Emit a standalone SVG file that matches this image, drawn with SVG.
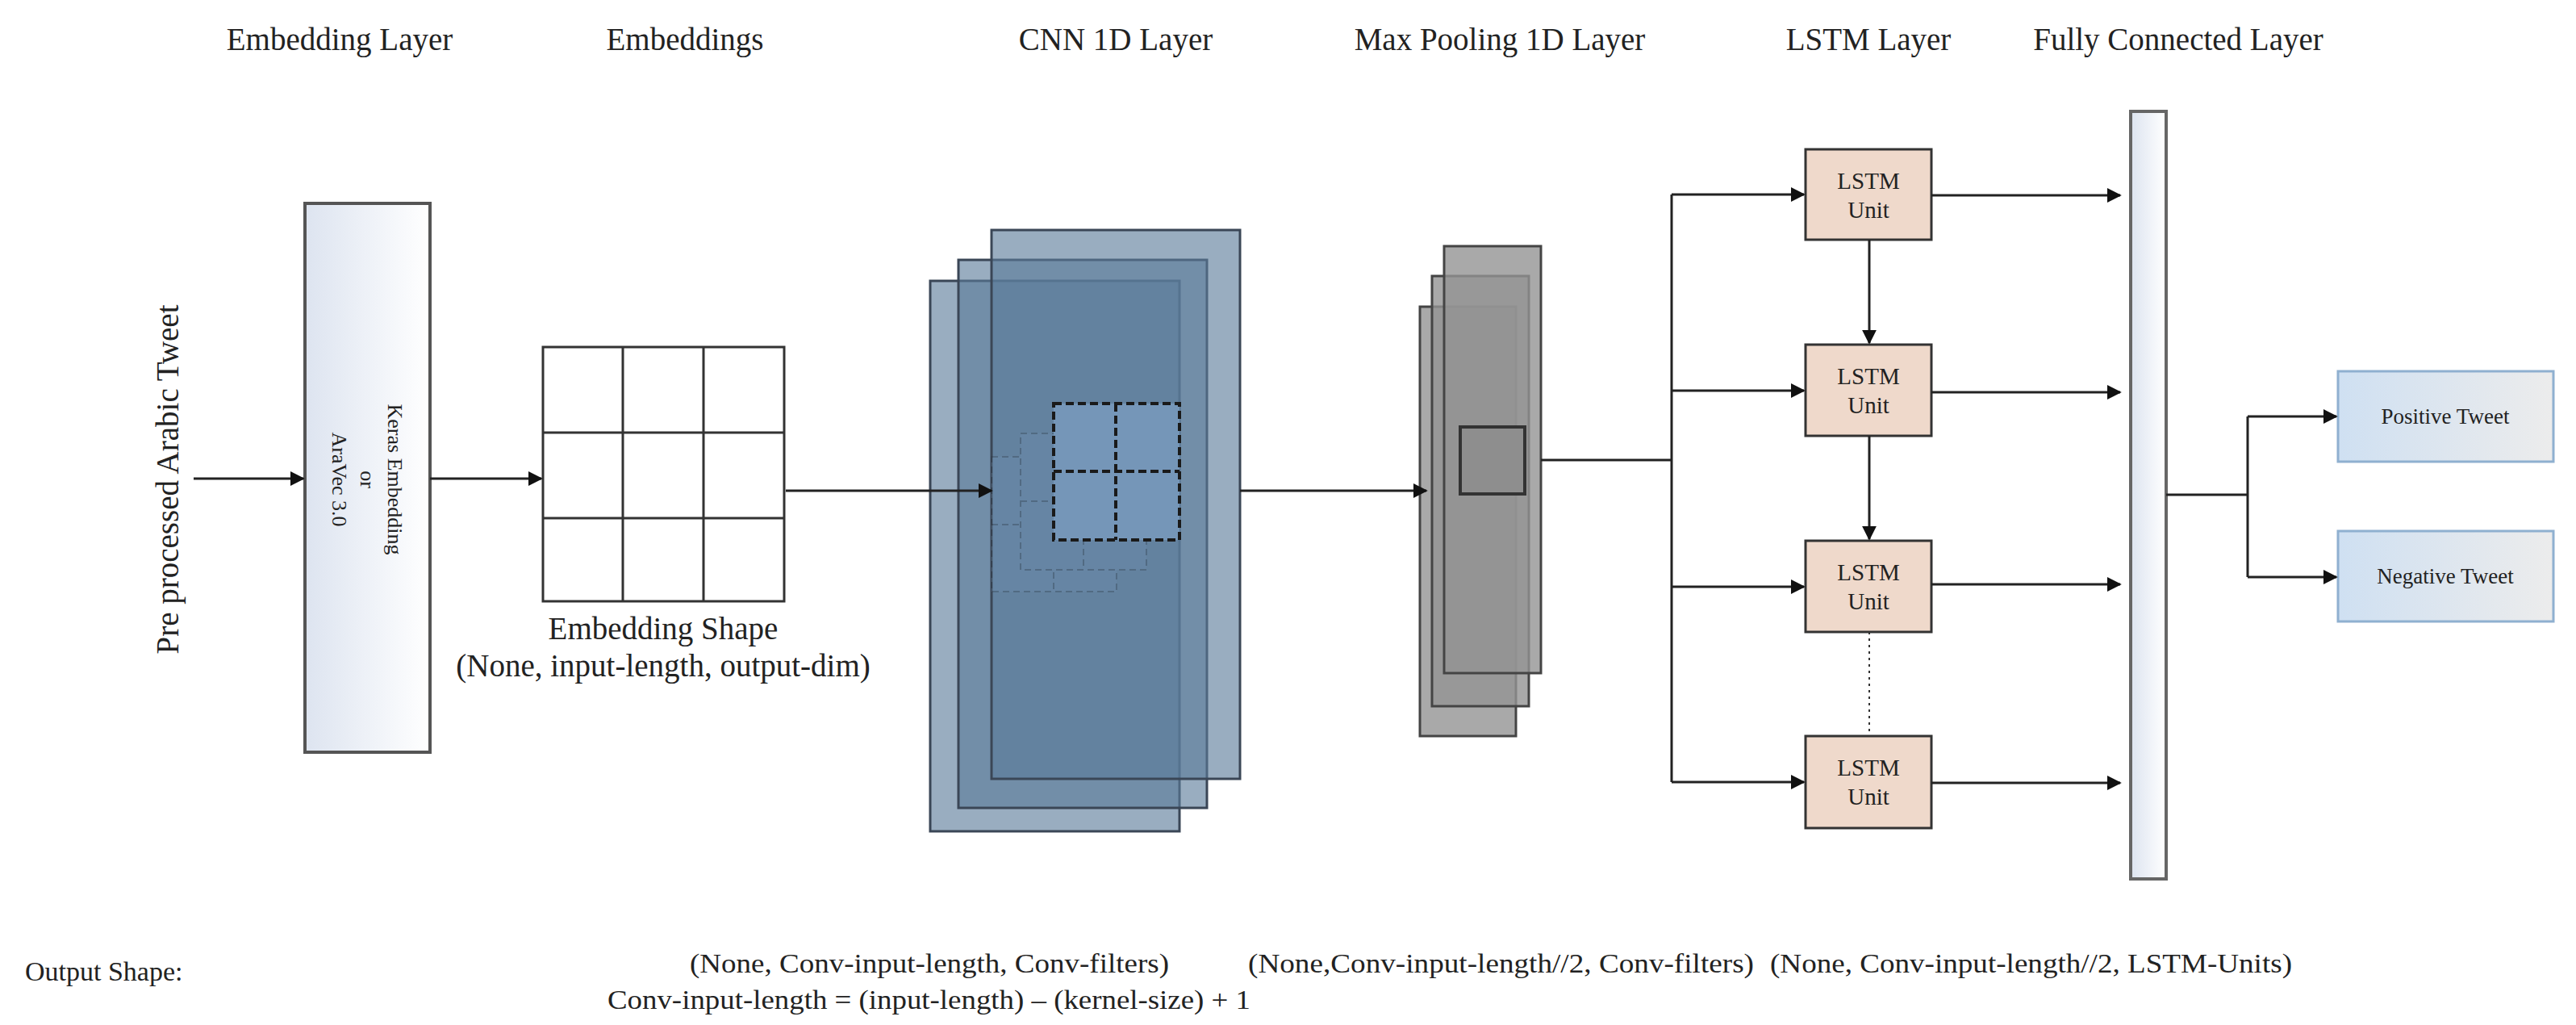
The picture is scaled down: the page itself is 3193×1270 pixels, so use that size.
<svg xmlns="http://www.w3.org/2000/svg" width="3193" height="1270" viewBox="0 0 3193 1270">
<style>
text{font-family:"Liberation Serif","Times New Roman",serif;fill:#222}
.t{font-size:39px;text-anchor:middle}
.c{stroke:#222;stroke-width:3;fill:none}
.lstm{fill:#efd9cb;stroke:#333;stroke-width:3}
.lt{font-size:29px;text-anchor:middle}
.cnn{fill:#5b7a9a;fill-opacity:0.62;stroke:#3a4656;stroke-width:3}
.mp{fill:#939393;fill-opacity:0.8;stroke:#444;stroke-width:3}
.bt{font-family:"Liberation Serif","Times New Roman",serif;font-size:34px}
</style>
<defs>
<marker id="a" viewBox="0 0 10 10" refX="9" refY="5" markerWidth="6" markerHeight="6" orient="auto"><path d="M0,0L10,5L0,10z" fill="#111"/></marker>
<linearGradient id="g1" x1="0" x2="1"><stop offset="0" stop-color="#dde4f0"/><stop offset="1" stop-color="#ffffff"/></linearGradient>
<linearGradient id="g2" x1="0" x2="1"><stop offset="0" stop-color="#cfe0f2"/><stop offset="1" stop-color="#ececec"/></linearGradient>
</defs>
<rect width="3193" height="1270" fill="#fff"/>
<g id="titles">
<text class="t" x="421" y="62">Embedding Layer</text>
<text class="t" x="849" y="62">Embeddings</text>
<text class="t" x="1383" y="62">CNN 1D Layer</text>
<text class="t" x="1859" y="62">Max Pooling 1D Layer</text>
<text class="t" x="2316" y="62">LSTM Layer</text>
<text class="t" x="2700" y="62">Fully Connected Layer</text>
</g>
<g id="input"><text class="t" transform="translate(221,594) rotate(-90)">Pre processed Arabic Tweet</text></g>
<g id="embLayer">
<rect x="378" y="252" width="155" height="680" fill="url(#g1)" stroke="#555" stroke-width="4"/>
<text transform="translate(481,594) rotate(90)" font-size="26" text-anchor="middle">Keras Embedding</text>
<text transform="translate(447,594) rotate(90)" font-size="26" text-anchor="middle">or</text>
<text transform="translate(412,594) rotate(90)" font-size="26" text-anchor="middle">AraVec 3.0</text>
</g>
<g id="embeddings">
<rect x="673" y="430" width="299" height="315" fill="#fff" stroke="#333" stroke-width="3"/>
<path d="M772,430V745M872,430V745M673,536H972M673,642H972" stroke="#333" stroke-width="3"/>
<text class="t" x="822" y="792">Embedding Shape</text>
<text class="t" x="822" y="838">(None, input-length, output-dim)</text>
</g>
<g id="cnn">
<rect class="cnn" x="1153" y="348" width="309" height="682"/>
<rect class="cnn" x="1188" y="322" width="308" height="679"/>
<rect class="cnn" x="1229" y="285" width="308" height="680"/>
<g stroke="#2a3440" stroke-width="2" stroke-dasharray="8,5" fill="#6f8fb0" opacity="0.3">
<rect x="1229" y="566" width="155" height="167"/><path d="M1306,566V733M1229,650H1384"/>
<rect x="1265" y="537" width="156" height="169"/><path d="M1343,537V706M1265,621H1421"/>
</g>
<g stroke="#1a1a1a" stroke-width="4" stroke-dasharray="10,5">
<rect x="1306" y="500" width="156" height="169" fill="#7596b8"/>
<path d="M1383,500V669M1306,584H1462"/>
</g>
</g>
<g id="maxpool">
<rect class="mp" x="1760" y="380" width="119" height="532"/>
<rect class="mp" x="1775" y="342" width="120" height="533"/>
<rect class="mp" x="1790" y="305" width="120" height="529"/>
<rect x="1810" y="529" width="80" height="83" fill="#8e8e8e" stroke="#333" stroke-width="4"/>
</g>
<g id="lstm1"><rect class="lstm" x="2238" y="185" width="156" height="112"/><text class="lt" x="2316" y="234">LSTM</text><text class="lt" x="2316" y="270">Unit</text></g>
<g id="lstm2"><rect class="lstm" x="2238" y="427" width="156" height="113"/><text class="lt" x="2316" y="476">LSTM</text><text class="lt" x="2316" y="512">Unit</text></g>
<g id="lstm3"><rect class="lstm" x="2238" y="670" width="156" height="113"/><text class="lt" x="2316" y="719">LSTM</text><text class="lt" x="2316" y="755">Unit</text></g>
<g id="lstm4"><rect class="lstm" x="2238" y="912" width="156" height="114"/><text class="lt" x="2316" y="961">LSTM</text><text class="lt" x="2316" y="997">Unit</text></g>
<g id="fc"><rect x="2641" y="138" width="44" height="951" fill="url(#g1)" stroke="#666" stroke-width="4"/></g>
<g id="positive"><rect x="2898" y="460" width="267" height="112" fill="url(#g2)" stroke="#8fb0d0" stroke-width="3"/><text x="3031" y="525" font-size="27" text-anchor="middle">Positive Tweet</text></g>
<g id="negative"><rect x="2898" y="658" width="267" height="112" fill="url(#g2)" stroke="#8fb0d0" stroke-width="3"/><text x="3031" y="723" font-size="27" text-anchor="middle">Negative Tweet</text></g>
<g id="connectors" class="c">
<path class="c" d="M240,593H376" marker-end="url(#a)"/>
<path class="c" d="M533,593H671" marker-end="url(#a)"/>
<path class="c" d="M974,608H1229" marker-end="url(#a)"/>
<path class="c" d="M1537,608H1768" marker-end="url(#a)"/>
<path class="c" d="M1910,570H2072M2072,241V969"/>
<path class="c" d="M2072,241H2236" marker-end="url(#a)"/>
<path class="c" d="M2072,484H2236" marker-end="url(#a)"/>
<path class="c" d="M2072,727H2236" marker-end="url(#a)"/>
<path class="c" d="M2072,969H2236" marker-end="url(#a)"/>
<path class="c" d="M2317,297V425" marker-end="url(#a)"/>
<path class="c" d="M2317,540V668" marker-end="url(#a)"/>
<path d="M2317,783V912" stroke="#333" stroke-width="2" stroke-dasharray="3,5" fill="none"/>
<path class="c" d="M2394,242H2628" marker-end="url(#a)"/>
<path class="c" d="M2394,486H2628" marker-end="url(#a)"/>
<path class="c" d="M2394,724H2628" marker-end="url(#a)"/>
<path class="c" d="M2394,970H2628" marker-end="url(#a)"/>
<path class="c" d="M2685,613H2786M2786,516V715"/>
<path class="c" d="M2786,516H2896" marker-end="url(#a)"/>
<path class="c" d="M2786,715H2896" marker-end="url(#a)"/>
</g>
<g id="shapes">
<text class="bt" x="31" y="1215">Output Shape:</text>
<text class="bt" x="855" y="1205" textLength="594" lengthAdjust="spacingAndGlyphs">(None, Conv-input-length, Conv-filters)</text>
<text class="bt" x="753" y="1250" textLength="797" lengthAdjust="spacingAndGlyphs">Conv-input-length = (input-length) – (kernel-size) + 1</text>
<text class="bt" x="1547" y="1205" textLength="627" lengthAdjust="spacingAndGlyphs">(None,Conv-input-length//2, Conv-filters)</text>
<text class="bt" x="2194" y="1205" textLength="647" lengthAdjust="spacingAndGlyphs">(None, Conv-input-length//2, LSTM-Units)</text>
</g>
</svg>
